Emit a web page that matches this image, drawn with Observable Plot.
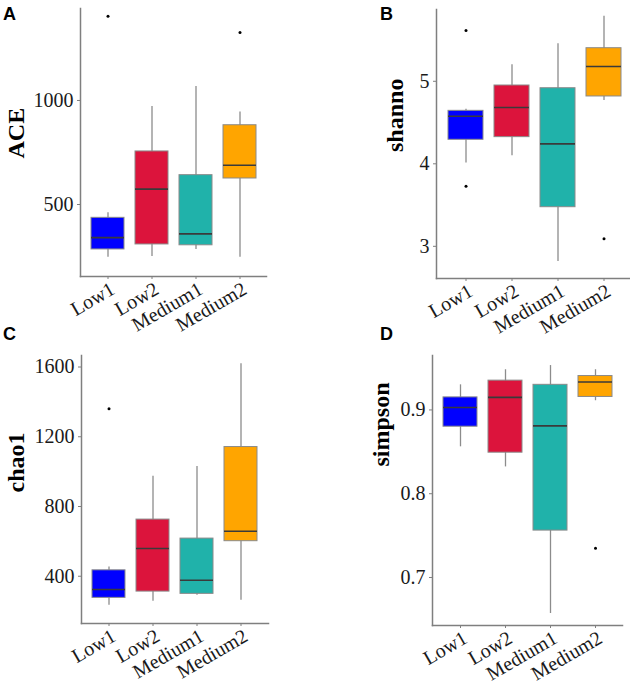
<!DOCTYPE html>
<html><head><meta charset="utf-8">
<script src="https://cdn.jsdelivr.net/npm/d3@7"></script>
<script src="https://cdn.jsdelivr.net/npm/@observablehq/plot@0.6"></script>
<style>
html,body{margin:0;padding:0;background:#fff;overflow:hidden}
#fig{position:relative;width:630px;height:687px;overflow:hidden;background:#fff}
.panel{position:absolute}
.letter{position:absolute;font:bold 18px "Liberation Sans",Arial,sans-serif;line-height:18px;color:#000}
</style></head><body><div id="fig"></div>
<script>
const groups = ["Low1","Low2","Medium1","Medium2"];
const colors = ["#0000FF","#DC143C","#20B2AA","#FFA500"];

// ACE
const aceLo  = [247, 250, 284, 247];
const aceQ1  = [284, 308, 304, 625];
const aceMed = [341, 574, 359, 689];
const aceQ3  = [436, 755, 641, 881];
const aceHi  = [460, 971, 1067, 944];
const aceOutGroup = ["Low1","Medium2"];
const aceOutValue = [1405, 1327];
const aceTicks = [500, 1000];

// shanno
const shLo  = [4.01, 4.097, 2.816, 4.767];
const shQ1  = [4.291, 4.323, 3.474, 4.816];
const shMed = [4.577, 4.682, 4.242, 5.179];
const shQ3  = [4.642, 4.949, 4.916, 5.401];
const shHi  = [4.66, 5.2, 5.455, 5.789];
const shOutGroup = ["Low1","Low1","Medium2"];
const shOutValue = [5.616, 3.729, 3.091];
const shTicks = [3, 4, 5];

// chao1
const chLo  = [234, 257, 291, 262];
const chQ1  = [276, 312, 299, 601];
const chMed = [324, 559, 377, 658];
const chQ3  = [434, 725, 616, 1141];
const chHi  = [453, 973, 1030, 1619];
const chOutGroup = ["Low1"];
const chOutValue = [1361];
const chTicks = [400, 800, 1200, 1600];

// simpson
const siLo  = [0.856, 0.832, 0.657, 0.911];
const siQ1  = [0.880, 0.849, 0.756, 0.9155];
const siMed = [0.903, 0.915, 0.881, 0.9334];
const siQ3  = [0.915, 0.935, 0.930, 0.9405];
const siHi  = [0.930, 0.948, 0.953, 0.948];
const siOutGroup = ["Medium2"];
const siOutValue = [0.735];
const siTicks = [0.7, 0.8, 0.9];

const panels = [
  {letter:"A", label:"ACE", lo:aceLo, q1:aceQ1, med:aceMed, q3:aceQ3, hi:aceHi, og:aceOutGroup, ov:aceOutValue, ticks:aceTicks,
   domain:[154,1442], left:0, top:0, w:315, h:340, mL:80, mT:8, mR:49, mB:64, lx:-64, ly:16, fmt:d3.format("d"), L:[3,5]},
  {letter:"B", label:"shanno", lo:shLo, q1:shQ1, med:shMed, q3:shQ3, hi:shHi, og:shOutGroup, ov:shOutValue, ticks:shTicks,
   domain:[2.61,5.87], left:315, top:0, w:320, h:340, mL:121, mT:9, mR:2, mB:62, lx:-41, ly:8, fmt:d3.format("d"), L:[380,5]},
  {letter:"C", label:"chao1", lo:chLo, q1:chQ1, med:chMed, q3:chQ3, hi:chHi, og:chOutGroup, ov:chOutValue, ticks:chTicks,
   domain:[129,1666], left:0, top:340, w:315, h:347, mL:81, mT:15, mR:47, mB:64, lx:-65, ly:3, fmt:d3.format("d"), L:[3,325]},
  {letter:"D", label:"simpson", lo:siLo, q1:siQ1, med:siMed, q3:siQ3, hi:siHi, og:siOutGroup, ov:siOutValue, ticks:siTicks,
   domain:[0.6427,0.965], left:315, top:340, w:315, h:347, mL:117, mT:15, mR:8, mB:62, lx:-51, ly:-24, fmt:d3.format(".1f"), L:[380,325]}
];

const fig = document.getElementById("fig");
const serif = "'Liberation Serif','Times New Roman',serif";

for (const p of panels) {
  const rows = groups.map((g, i) => ({group: g, lo: p.lo[i], q1: p.q1[i], med: p.med[i], q3: p.q3[i], hi: p.hi[i]}));
  const outs = p.og.map((g, i) => ({group: g, value: p.ov[i]}));
  const chart = Plot.plot({
    width: p.w, height: p.h,
    marginLeft: p.mL, marginTop: p.mT, marginRight: p.mR, marginBottom: p.mB,
    style: {fontFamily: serif, color: "#1a1a1a", background: "transparent", overflow: "visible"},
    x: {type: "band", domain: groups, paddingInner: 0.25, paddingOuter: 0.225},
    y: {domain: p.domain},
    color: {domain: groups, range: colors},
    marks: [
      Plot.ruleX(rows, {x: "group", y1: "lo", y2: "hi", stroke: "#8c8c8c", strokeWidth: 1.3}),
      Plot.barY(rows, {x: "group", y1: "q1", y2: "q3", fill: "group", stroke: "#8a8a8a", strokeWidth: 1}),
      Plot.tickY(rows, {x: "group", y: "med", stroke: "#3a3a3a", strokeWidth: 1.6}),
      Plot.dot(outs, {x: "group", y: "value", r: 1.5, fill: "#000", stroke: null}),
      Plot.frame({anchor: "left", stroke: "#7f7f7f", strokeWidth: 1.5}),
      Plot.frame({anchor: "bottom", stroke: "#7f7f7f", strokeWidth: 1.5}),
      Plot.axisY(p.ticks, {tickSize: 3, tickPadding: 4, fontSize: 20, stroke: "#7f7f7f", fill: "#1a1a1a", tickFormat: p.fmt, label: null}),
      Plot.axisX({tickSize: 3, tickFormat: () => "", stroke: "#7f7f7f", label: null}),
      Plot.axisX({tickSize: 0, tickPadding: 6, tickRotate: -30, dx: 5, dy: 5, fontSize: 20, fill: "#1a1a1a", label: null}),
      Plot.text([p.label], {text: d => d, frameAnchor: "left", rotate: -90, dx: p.lx, dy: p.ly, fontSize: 24, fontWeight: "bold", fontFamily: serif, fill: "#000"})
    ]
  });
  chart.classList.add("panel");
  chart.style.left = p.left + "px";
  chart.style.top = p.top + "px";
  fig.appendChild(chart);
  const lt = document.createElement("div");
  lt.className = "letter";
  lt.textContent = p.letter;
  lt.style.left = p.L[0] + "px";
  lt.style.top = p.L[1] + "px";
  fig.appendChild(lt);
}
</script></body></html>
